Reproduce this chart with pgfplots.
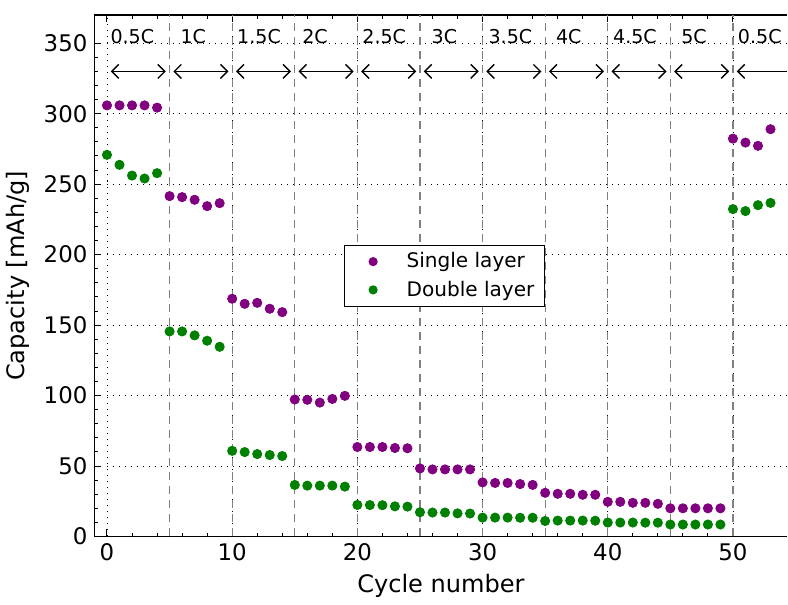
\documentclass[border=0pt]{standalone}
\usepackage{fontspec}
\setmainfont{DejaVu Sans}
\usepackage{pgfplots}
\usepackage{pgfplotstable}
\pgfplotsset{compat=1.18}
\usetikzlibrary{arrows.meta}

\definecolor{mplpurple}{RGB}{128,0,128}
\definecolor{mplgreen}{RGB}{0,128,0}

% cycle, single layer, double layer
\pgfplotstableread{
x  single double
0  305.9  270.8
1  305.9  263.7
2  305.9  256.1
3  305.9  254.0
4  304.3  257.8
5  241.5  145.5
6  240.8  145.5
7  238.9  142.7
8  234.4  138.9
9  236.5  134.6
10 168.7  60.8
11 165.1  59.9
12 165.8  58.5
13 161.6  57.8
14 159.2  57.1
15 97.2   36.6
16 97.0   36.1
17 95.0   36.1
18 97.6   36.1
19 99.8   35.4
20 63.5   22.4
21 63.5   22.3
22 63.5   22.2
23 62.8   21.4
24 62.6   21.2
25 48.3   17.2
26 47.6   17.0
27 47.6   17.0
28 47.6   16.4
29 47.6   16.3
30 38.4   13.4
31 38.0   13.4
32 38.0   13.4
33 37.2   13.3
34 36.6   13.3
35 31.0   11.0
36 30.3   11.3
37 30.3   11.3
38 29.6   11.3
39 29.6   11.2
40 24.6   9.9
41 24.6   9.9
42 23.9   9.9
43 23.9   9.8
44 23.2   9.8
45 20.0   8.5
46 20.0   8.5
47 20.0   8.5
48 20.0   8.5
49 20.0   8.5
50 282.3  232.3
51 279.5  230.9
52 277.2  235.1
53 289.0  236.7
}\capdata

\tikzset{rate/.style={{Straight Barb[length=3.5pt,width=7pt]}-{Straight Barb[length=3.5pt,width=7pt]}, line width=0.7pt, black}}

\begin{document}
\begin{tikzpicture}
\begin{axis}[
  scale only axis,
  width=345.5pt, height=260pt,
  xmin=-1, xmax=54.35, ymin=0, ymax=370,
  axis x line*=box, axis y line*=left,
  tick align=inside,
  xtick={0,10,...,50}, ytick={0,50,...,350},
  minor x tick num=4, minor y tick num=4,
  major tick length=3.5pt, minor tick length=1.8pt,
  xmajorgrids, ymajorgrids,
  major grid style={black, dash pattern=on 0.5pt off 2.5pt, line width=0.4pt},
  axis line style={line width=0.6pt},
  tick style={black, line width=0.5pt},
  tick label style={font=\fontsize{11.4}{13}\selectfont},
  /pgf/number format/assume math mode=true,
  xlabel={Cycle number}, ylabel={Capacity [mAh/g]},
  label style={font=\fontsize{12}{14}\selectfont},
  legend style={at={(0.505,0.5)}, anchor=center, draw=black, line width=0.5pt,
    font=\fontsize{10}{12}\selectfont, inner xsep=3pt, inner ysep=1.5pt,
    row sep=1pt, nodes={inner ysep=2pt}},
  legend cell align=left,
  legend image code/.code={\path[draw=none, fill=none] (0,0) -- (26pt,0); \fill[#1, draw=none] (11.3pt,0) circle (2.3pt);},
]
% rate boundaries
\pgfplotsinvokeforeach{5,10,15,20,25,30,35,40,45,50}{
  \draw[gray, dash pattern=on 4pt off 3pt, line width=0.6pt] (axis cs:#1,0) -- (axis cs:#1,370);
}

\addplot[only marks, mark=*, mark size=2.3pt, color=mplpurple] table[x=x, y=single] {\capdata};
\addplot[only marks, mark=*, mark size=2.3pt, color=mplgreen] table[x=x, y=double] {\capdata};
\legend{Single layer, Double layer}

% C-rate arrows
\draw[rate] (axis cs:0.3,330) -- (axis cs:4.7,330);
\draw[rate] (axis cs:5.3,330) -- (axis cs:9.7,330);
\draw[rate] (axis cs:10.3,330) -- (axis cs:14.7,330);
\draw[rate] (axis cs:15.3,330) -- (axis cs:19.7,330);
\draw[rate] (axis cs:20.3,330) -- (axis cs:24.7,330);
\draw[rate] (axis cs:25.3,330) -- (axis cs:29.7,330);
\draw[rate] (axis cs:30.3,330) -- (axis cs:34.7,330);
\draw[rate] (axis cs:35.3,330) -- (axis cs:39.7,330);
\draw[rate] (axis cs:40.3,330) -- (axis cs:44.7,330);
\draw[rate] (axis cs:45.3,330) -- (axis cs:49.7,330);
\draw[{Straight Barb[length=3.5pt,width=7pt]}-, line width=0.7pt] (axis cs:50.3,330) -- (axis cs:54.35,330);

% C-rate labels
\begin{scope}[every node/.style={anchor=base west, inner sep=0pt, font=\fontsize{9.5}{11}\selectfont}]
\node at (axis cs:0.25,350) {0.5C};
\node at (axis cs:5.84,350) {1C};
\node at (axis cs:10.37,350) {1.5C};
\node at (axis cs:15.57,350) {2C};
\node at (axis cs:20.37,350) {2.5C};
\node at (axis cs:25.9,350) {3C};
\node at (axis cs:30.45,350) {3.5C};
\node at (axis cs:35.84,350) {4C};
\node at (axis cs:40.4,350) {4.5C};
\node at (axis cs:45.84,350) {5C};
\node at (axis cs:50.37,350) {0.5C};
\end{scope}
\end{axis}
\path (current axis.north) ++(0,7.5pt);
\end{tikzpicture}
\end{document}
